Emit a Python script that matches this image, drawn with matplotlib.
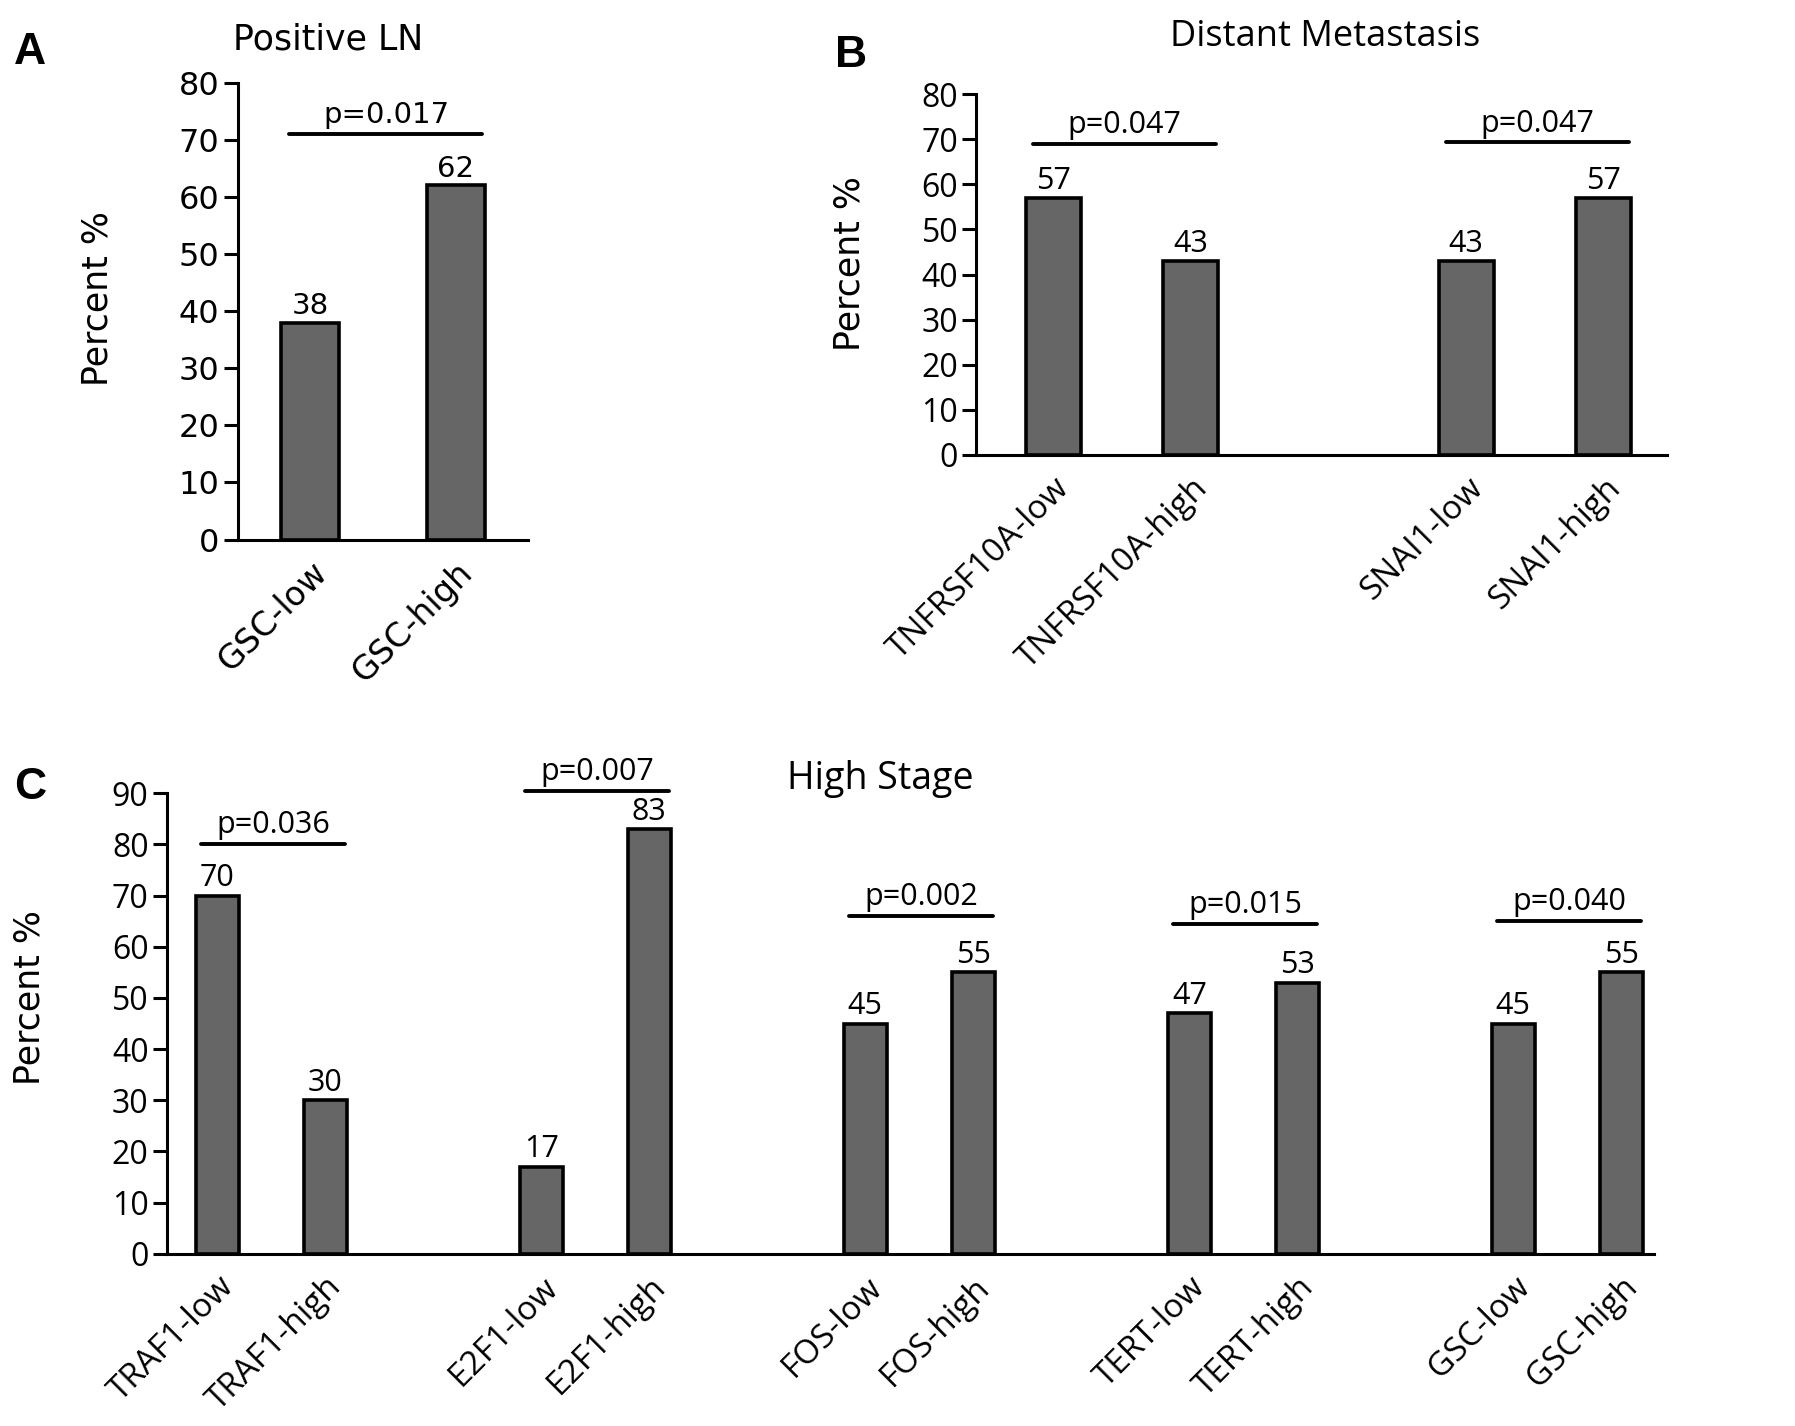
import matplotlib
matplotlib.use("Agg")
from matplotlib import pyplot as plt

# Panel A: Positive LN
a_labels = ["GSC-low", "GSC-high"]
a_values = [38, 62]
a_pvals = ["p=0.017"]

# Panel B: Distant Metastasis
b_labels = ["TNFRSF10A-low", "TNFRSF10A-high", "SNAI1-low", "SNAI1-high"]
b_values = [57, 43, 43, 57]
b_pvals = ["p=0.047", "p=0.047"]

# Panel C: High Stage
c_labels = ["TRAF1-low", "TRAF1-high", "E2F1-low", "E2F1-high", "FOS-low",
            "FOS-high", "TERT-low", "TERT-high", "GSC-low", "GSC-high"]
c_values = [70, 30, 17, 83, 45, 55, 47, 53, 45, 55]
c_pvals = ["p=0.036", "p=0.007", "p=0.002", "p=0.015", "p=0.040"]
c_pline = [80, 90.5, 66, 64.5, 65]

BAR = "#666666"
VFONT = "DejaVu Sans"
SFONT = "Open Sans"


def positions(n):
    # pairs separated by a gap of one slot
    pos = []
    for i in range(n):
        pos.append((i // 2) * 3 + i % 2)
    return pos


def draw_panel(ax, labels, values, pvals, plines, ymax, font, tsize, lsize, vsize, wt):
    x = positions(len(values))
    ax.bar(x, values, width=0.4, color=BAR, edgecolor="black", linewidth=2.6, zorder=3)
    for xi, v in zip(x, values):
        ax.text(xi, v + 0.5, str(v), ha="center", va="bottom", fontsize=vsize,
                family=font, fontweight=wt)
    for k, (p, yl) in enumerate(zip(pvals, plines)):
        x0 = x[2 * k]
        ax.plot([x0 - 0.15, x0 + 1.18], [yl, yl], color="black", lw=2.8,
                clip_on=False, solid_capstyle="round")
        ax.text(x0 + 0.52, yl + 0.8, p, ha="center", va="bottom", fontsize=vsize,
                family=font, fontweight=wt)
    ax.set_ylim(0, ymax)
    ax.set_yticks(range(0, ymax + 1, 10))
    ax.set_xticks(x)
    ax.set_xticklabels(labels, rotation=45, ha="right", rotation_mode="anchor",
                       family=font, fontsize=lsize, fontweight=wt)
    for t in ax.get_yticklabels():
        t.set_family(font)
        t.set_fontsize(tsize)
        t.set_fontweight(wt)
    ax.spines["top"].set_visible(False)
    ax.spines["right"].set_visible(False)
    ax.spines["left"].set_linewidth(2.2)
    ax.spines["bottom"].set_linewidth(2.2)
    ax.tick_params(axis="y", length=10, width=2.2, pad=3)
    ax.tick_params(axis="x", length=0, pad=12)


fig = plt.figure(figsize=(17.95, 14.26), dpi=100)

axA = fig.add_axes([0.1324, 0.6216, 0.162, 0.3205])
draw_panel(axA, a_labels, a_values, a_pvals, [71], 80, VFONT, 23, 24, 21, "normal")
axA.set_xlim(-0.5, 1.5)
axA.set_ylabel("Percent %", family=VFONT, fontsize=25)
axA.yaxis.set_label_coords(-0.423, 0.528)
axA.text(0.31, 1.095, "Positive LN", transform=axA.transAxes, ha="center",
         va="center", family=VFONT, fontsize=25)

axB = fig.add_axes([0.5438, 0.681, 0.385, 0.253])
draw_panel(axB, b_labels, b_values, b_pvals, [69, 69.3], 80, SFONT, 23, 24, 22, "medium")
axB.set_xlim(-0.56, 4.46)
axB.set_ylabel("Percent %", family=VFONT, fontsize=25)
axB.yaxis.set_label_coords(-0.158, 0.53)
axB.text(0.505, 1.158, "Distant Metastasis", transform=axB.transAxes, ha="center",
         va="center", family=SFONT, fontsize=26, fontweight="medium")

axC = fig.add_axes([0.0928, 0.1208, 0.8285, 0.3229])
draw_panel(axC, c_labels, c_values, c_pvals, c_pline, 90, SFONT, 23, 24, 22, "medium")
axC.set_xlim(-0.47, 13.3)
axC.set_ylabel("Percent %", family=VFONT, fontsize=25)
axC.yaxis.set_label_coords(-0.081, 0.556)
axC.text(0.48, 1.032, "High Stage", transform=axC.transAxes, ha="center",
         va="center", family=SFONT, fontsize=27, fontweight="medium")

fig.text(0.008, 0.955, "A", fontsize=32, fontweight="bold", family="Liberation Sans")
fig.text(0.465, 0.953, "B", fontsize=32, fontweight="bold", family="Liberation Sans")
fig.text(0.008, 0.44, "C", fontsize=32, fontweight="bold", family="Liberation Sans")

fig.savefig("out.png", dpi=100)
plt.close(fig)
